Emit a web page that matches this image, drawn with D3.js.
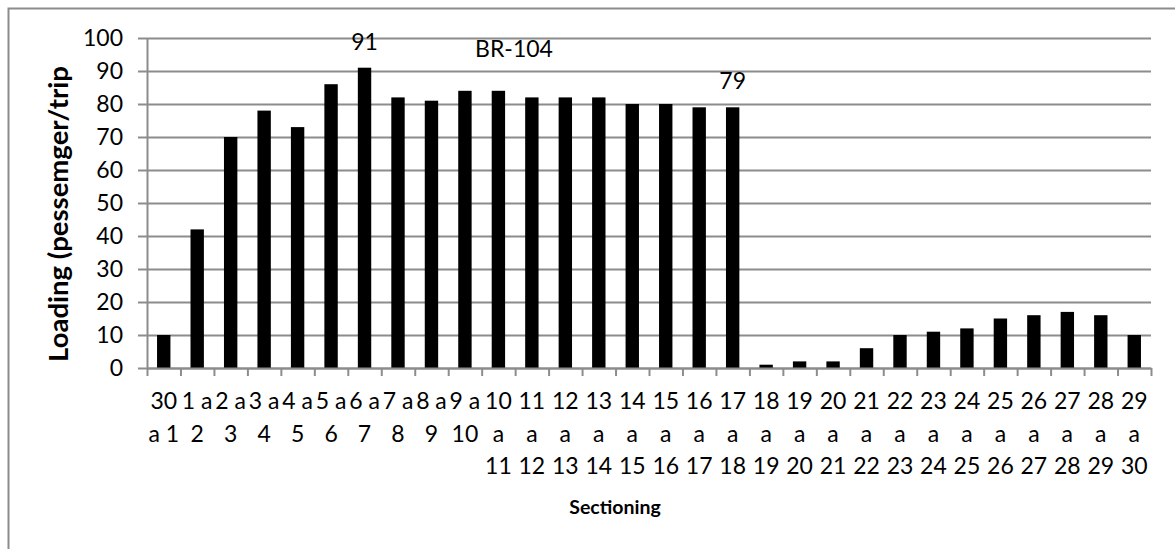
<!DOCTYPE html>
<html>
<head>
<meta charset="utf-8">
<script src="https://d3js.org/d3.v7.min.js"></script>
<style>
body { margin: 0; background: #fff; }
svg text { font-family: Lato, "Open Sans", sans-serif; fill: #000; }
.axis path, .axis line { stroke: #8c8c8c; stroke-width: 2; }
.grid line { stroke: #8c8c8c; stroke-width: 2; }
.grid path { display: none; }
</style>
</head>
<body>
<svg width="1175" height="549"></svg>
<script>
// sections along the route
var sections = ["30 a 1", "1 a 2", "2 a 3", "3 a 4", "4 a 5", "5 a 6", "6 a 7", "7 a 8", "8 a 9", "9 a 10",
  "10 a 11", "11 a 12", "12 a 13", "13 a 14", "14 a 15", "15 a 16", "16 a 17", "17 a 18", "18 a 19", "19 a 20",
  "20 a 21", "21 a 22", "22 a 23", "23 a 24", "24 a 25", "25 a 26", "26 a 27", "27 a 28", "28 a 29", "29 a 30"];
// passengers per trip
var loading = [10, 42, 70, 78, 73, 86, 91, 82, 81, 84,
  84, 82, 82, 82, 80, 80, 79, 79, 1, 2,
  2, 6, 10, 11, 12, 15, 16, 17, 16, 10];
var yTicks = [0, 10, 20, 30, 40, 50, 60, 70, 80, 90, 100];
var labelled = ["6 a 7", "17 a 18"];

var svg = d3.select("svg"),
    margin = {top: 38, left: 147},
    width = 1004,
    height = 330;

// outer frame, cut off on the right and bottom
svg.append("rect")
    .attr("x", 8.5).attr("y", 8.5)
    .attr("width", 1300).attr("height", 700)
    .attr("fill", "none").attr("stroke", "#8c8c8c").attr("stroke-width", 2);

var g = svg.append("g").attr("transform", "translate(" + margin.left + "," + margin.top + ")");

var x = d3.scaleBand().domain(sections).range([0, width]).paddingInner(0.6).paddingOuter(0.3);
var xEdge = d3.scaleLinear().domain([0, sections.length]).range([0, width]);
var y = d3.scaleLinear().domain([0, 100]).range([height, 0]);

g.append("g").attr("class", "grid")
    .call(d3.axisLeft(y).tickValues(yTicks).tickSize(-width).tickFormat(""));

g.append("g").attr("class", "axis")
    .call(d3.axisLeft(y).tickValues(yTicks).tickSizeInner(9).tickSizeOuter(0).tickPadding(15))
    .selectAll("text").style("font-size", "23px");

g.selectAll(".bar")
    .data(loading)
  .enter().append("rect")
    .attr("class", "bar")
    .attr("x", function(d, i) { return x(sections[i]); })
    .attr("width", x.bandwidth())
    .attr("y", function(d) { return y(d); })
    .attr("height", function(d) { return height - y(d); })
    .attr("fill", "#000");

// x axis: ticks between the categories
g.append("g").attr("class", "axis")
    .attr("transform", "translate(0," + height + ")")
    .call(d3.axisBottom(xEdge).tickValues(d3.range(sections.length + 1)).tickSizeInner(8).tickSizeOuter(0).tickFormat(""));

// wrapped category labels
var lab = g.append("g").selectAll("text")
    .data(sections)
  .enter().append("text")
    .attr("text-anchor", "middle")
    .style("font-size", "23px")
    .attr("transform", function(d) { return "translate(" + (x(d) + x.bandwidth() / 2) + "," + (height + 41) + ")"; });

lab.each(function(d) {
  var t = d3.select(this), words = d.split(" "), line = [], n = 0;
  var ts = t.append("tspan").attr("x", 0).attr("y", 0);
  words.forEach(function(w) {
    line.push(w);
    ts.text(line.join(" "));
    if (line.length > 1 && ts.node().getComputedTextLength() > x.step()) {
      line.pop();
      ts.text(line.join(" "));
      line = [w];
      n++;
      ts = t.append("tspan").attr("x", 0).attr("y", n * 32.5).text(w);
    }
  });
});

// value labels
var vals = loading.map(function(v, i) { return {s: sections[i], v: v}; })
    .filter(function(d) { return labelled.indexOf(d.s) >= 0; });

g.selectAll(".val")
    .data(vals)
  .enter().append("text")
    .attr("class", "val")
    .attr("text-anchor", "middle")
    .style("font-size", "23px")
    .attr("x", function(d) { return x(d.s) + x.bandwidth() / 2; })
    .attr("y", function(d) { return y(d.v) - 18; })
    .text(function(d) { return d.v; });

svg.append("text")
    .attr("x", 514).attr("y", 57)
    .attr("text-anchor", "middle")
    .style("font-size", "23px")
    .text("BR-104");

svg.append("text")
    .attr("x", 615).attr("y", 514)
    .attr("text-anchor", "middle")
    .style("font-size", "19.5px").style("font-weight", "bold")
    .text("Sectioning");

svg.append("text")
    .attr("transform", "translate(68,214) rotate(-90)")
    .attr("text-anchor", "middle")
    .style("font-size", "27.5px").style("font-weight", "bold")
    .text("Loading (pessemger/trip");
</script>
</body>
</html>
